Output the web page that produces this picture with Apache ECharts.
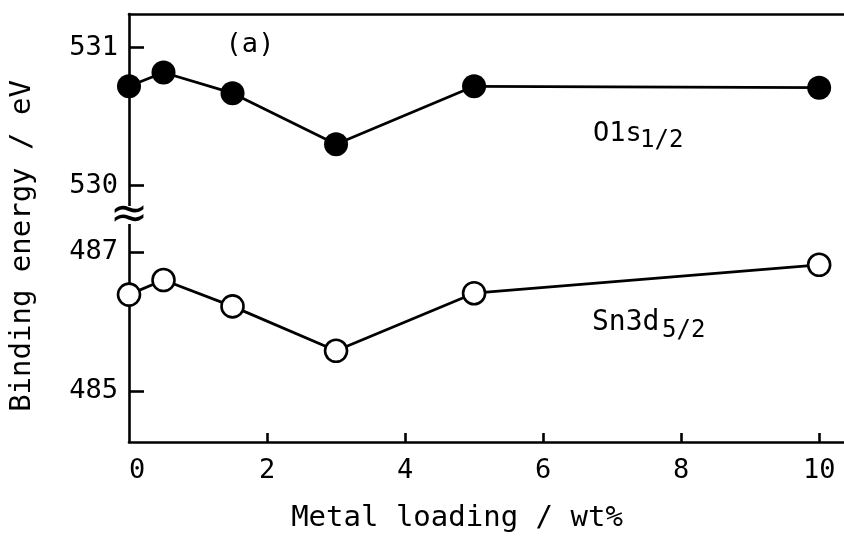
<!DOCTYPE html>
<html>
<head>
<meta charset="utf-8">
<script src="https://cdn.jsdelivr.net/npm/echarts@6/dist/echarts.min.js"></script>
<style>html,body{margin:0;padding:0;background:#fff}#c{width:844px;height:536px}</style>
</head>
<body>
<div id="c"></div>
<script>
var loading = [0, 0.5, 1.5, 3, 5, 10];
var o1s = [530.72, 530.82, 530.67, 530.30, 530.72, 530.71];
var sn3d = [486.39, 486.60, 486.22, 485.58, 486.41, 486.82];
var xTickLabels = [0, 2, 4, 6, 8, 10];
var xTicks = [2, 4, 6, 8, 10];
var oTicks = [530, 531];
var snTicks = [485, 487];

var MONO = 'DejaVu Sans Mono';
var chart = echarts.init(document.getElementById('c'));
function pairs(xs, ys) { return xs.map(function (x, i) { return [x, ys[i]]; }); }
var lineAx = { show: true, onZero: false, lineStyle: { color: '#000', width: 2.6 } };

chart.setOption({
  animation: false,
  backgroundColor: '#fff',
  grid: [
    { left: 129, right: 0, top: 14, height: 194 },
    { left: 129, right: 0, top: 222, height: 220 }
  ],
  xAxis: [
    { gridIndex: 0, type: 'value', min: 0, max: 10.36, position: 'top',
      axisLine: lineAx, axisTick: { show: false }, axisLabel: { show: false }, splitLine: { show: false } },
    { gridIndex: 1, type: 'value', min: 0, max: 10.36, position: 'bottom',
      axisLine: lineAx,
      axisTick: { show: true, inside: true, length: 9, customValues: xTicks, lineStyle: { color: '#000', width: 2.6 } },
      axisLabel: { customValues: xTickLabels, fontFamily: MONO, fontSize: 27, color: '#000', margin: 15, alignMinLabel: 'left' },
      splitLine: { show: false } }
  ],
  yAxis: [
    { gridIndex: 0, type: 'value', min: 529.838, max: 531.244,
      axisLine: lineAx,
      axisTick: { show: true, inside: true, length: 15, customValues: oTicks, lineStyle: { color: '#000', width: 2.6 } },
      axisLabel: { customValues: oTicks, fontFamily: MONO, fontSize: 27, color: '#000', margin: 11 },
      splitLine: { show: false } },
    { gridIndex: 1, type: 'value', min: 484.265, max: 487.437,
      axisLine: lineAx,
      axisTick: { show: true, inside: true, length: 15, customValues: snTicks, lineStyle: { color: '#000', width: 2.6 } },
      axisLabel: { customValues: snTicks, fontFamily: MONO, fontSize: 27, color: '#000', margin: 11 },
      splitLine: { show: false } }
  ],
  series: [
    { type: 'line', xAxisIndex: 0, yAxisIndex: 0, data: pairs(loading, o1s), clip: false,
      symbol: 'circle', symbolSize: 24, z: 3,
      itemStyle: { color: '#000' }, lineStyle: { color: '#000', width: 2.8 } },
    { type: 'line', xAxisIndex: 1, yAxisIndex: 1, data: pairs(loading, sn3d), clip: false,
      symbol: 'circle', symbolSize: 22, z: 3,
      itemStyle: { color: '#fff', borderColor: '#000', borderWidth: 2.6 }, lineStyle: { color: '#000', width: 2.8 } }
  ],
  graphic: [
    { type: 'rect', shape: { x: 113, y: 206, width: 34, height: 18 }, style: { fill: '#fff' }, z: 10 },
    { type: 'text', x: 129, y: 216, z: 11, style: { text: '≈', fontFamily: 'DejaVu Sans', fontSize: 46, fill: '#000', align: 'center', verticalAlign: 'middle' } },
    { type: 'text', x: 250, y: 45, style: { text: '(a)', fontFamily: MONO, fontSize: 27, fill: '#000', align: 'center', verticalAlign: 'middle' } },
    { type: 'text', x: 593, y: 134, style: { text: 'O1s', fontFamily: MONO, fontSize: 27, fill: '#000', align: 'left', verticalAlign: 'middle' } },
    { type: 'text', x: 640, y: 141, style: { text: '1/2', fontFamily: MONO, fontSize: 24, fill: '#000', align: 'left', verticalAlign: 'middle' } },
    { type: 'text', x: 592, y: 323, style: { text: 'Sn3d', fontFamily: MONO, fontSize: 28, fill: '#000', align: 'left', verticalAlign: 'middle' } },
    { type: 'text', x: 662, y: 331, style: { text: '5/2', fontFamily: MONO, fontSize: 24, fill: '#000', align: 'left', verticalAlign: 'middle' } },
    { type: 'text', x: 457, y: 518, style: { text: 'Metal loading / wt%', fontFamily: MONO, fontSize: 29, fill: '#000', align: 'center', verticalAlign: 'middle' } },
    { type: 'text', x: 22, y: 246, rotation: Math.PI / 2, style: { text: 'Binding energy / eV', fontFamily: MONO, fontSize: 29, fill: '#000', align: 'center', verticalAlign: 'middle' } }
  ]
});
</script>
</body>
</html>
